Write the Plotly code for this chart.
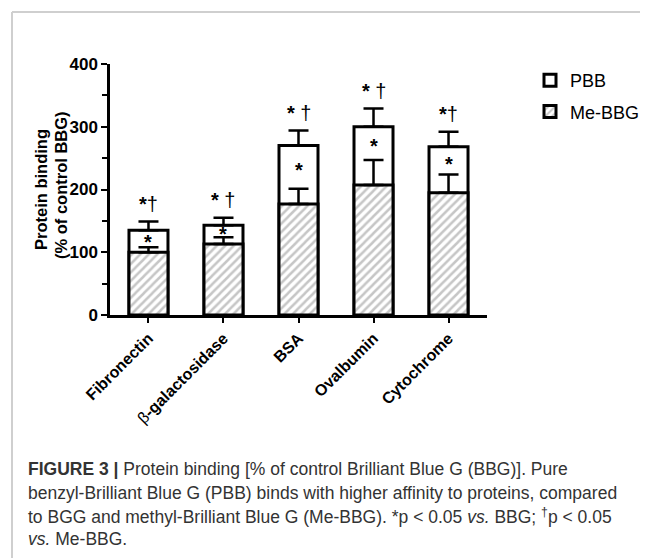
import plotly.graph_objects as go

categories = ["<b>Fibronectin</b>", "β<b>-galactosidase</b>", "<b>BSA</b>", "<b>Ovalbumin</b>", "<b>Cytochrome</b>"]
pbb_mean = [135, 143, 270, 300, 268]
pbb_err = [14, 12, 24, 29, 24]
mebbg_mean = [100, 113, 177, 207, 195]
mebbg_err = [8, 11, 24, 40, 29]
top_marks = ["<b>*</b>†", "<b>*</b> †", "<b>*</b> †", "<b>*</b> †", "<b>*</b>†"]
mid_marks = ["<b>*</b>", "<b>*</b>", "<b>*</b>", "<b>*</b>", "<b>*</b>"]

FONT = "Liberation Sans, Arial, sans-serif"
OFF = 8  # browser body margin
W, H = 648 - OFF, 558 - OFF
# plot area in reference page pixels
X0, X1, Y0, Y1 = 110, 487, 64, 315
L, R, T, B = X0 - OFF, W - (X1 - OFF), Y0 - OFF, H - (Y1 - OFF)
PW, PH = W - L - R, H - T - B


def px_x(x):
    return (x - OFF - L) / PW


def px_y(y):
    return (H - B - (y - OFF)) / PH


fig = go.Figure()
fig.add_trace(go.Bar(
    x=categories, y=pbb_mean, name="PBB",
    marker=dict(color="white", line=dict(color="black", width=3)),
    error_y=dict(type="data", array=pbb_err, arrayminus=[0] * len(pbb_err),
                 symmetric=False, color="black", thickness=2.5, width=10),
    width=0.52, cliponaxis=False, legendgroup="a",
))
fig.add_trace(go.Bar(
    x=categories, y=mebbg_mean, name="Me-BBG",
    marker=dict(color="white", line=dict(color="black", width=3),
                pattern=dict(shape="/", fgcolor="#8e8e8e", bgcolor="white", size=6, solidity=0.42)),
    error_y=dict(type="data", array=mebbg_err, arrayminus=[0] * len(mebbg_err),
                 symmetric=False, color="black", thickness=2.5, width=10),
    width=0.52, cliponaxis=False, legendgroup="b",
))

annotations = []
for i, c in enumerate(categories):
    annotations.append(dict(x=c, y=pbb_mean[i] + pbb_err[i], xref="x", yref="y",
                            text=top_marks[i], showarrow=False, yanchor="middle", yshift=18,
                            font=dict(family=FONT, size=20, color="black")))
    mid = (mebbg_mean[i] + mebbg_err[i] + pbb_mean[i]) / 2
    annotations.append(dict(x=c, y=mid, xref="x", yref="y",
                            text=mid_marks[i], showarrow=False, yanchor="middle", yshift=-3,
                            font=dict(family=FONT, size=20, color="black")))

# y-axis title (two lines)
annotations.append(dict(x=px_x(41), y=px_y(190), xref="paper", yref="paper", text="<b>Protein binding</b>",
                        textangle=-90, showarrow=False, xanchor="center", yanchor="middle",
                        font=dict(family=FONT, size=16.5, color="black")))
annotations.append(dict(x=px_x(61), y=px_y(185), xref="paper", yref="paper", text="<b>(% of control BBG)</b>",
                        textangle=-90, showarrow=False, xanchor="center", yanchor="middle",
                        font=dict(family=FONT, size=16.5, color="black")))

caption = [
    "<b>FIGURE 3 |</b> Protein binding [% of control Brilliant Blue G (BBG)]. Pure",
    "benzyl-Brilliant Blue G (PBB) binds with higher affinity to proteins, compared",
    "to BGG and methyl-Brilliant Blue G (Me-BBG). *p < 0.05 <i>vs.</i> BBG; <sup>†</sup>p < 0.05",
    "<i>vs.</i> Me-BBG.",
]
cap_y = [469, 493, 516, 539]
for t, yy in zip(caption, cap_y):
    annotations.append(dict(x=px_x(26), y=px_y(yy), xref="paper", yref="paper", text=t,
                            showarrow=False, xanchor="left", yanchor="middle",
                            font=dict(family=FONT, size=17.5, color="#333333")))

shapes = [
    dict(type="line", xref="paper", yref="paper", x0=px_x(12), x1=px_x(660), y0=px_y(12), y1=px_y(12),
         line=dict(color="#cfcfcf", width=2)),
    dict(type="line", xref="paper", yref="paper", x0=px_x(12), x1=px_x(12), y0=px_y(12), y1=px_y(570),
         line=dict(color="#cfcfcf", width=2)),
]

fig.update_layout(
    width=W, height=H, margin=dict(l=L, r=R, t=T, b=B, pad=0, autoexpand=False),
    paper_bgcolor="white", plot_bgcolor="white",
    barmode="overlay", showlegend=True,
    legend=dict(x=px_x(530), y=px_y(62), xanchor="left", yanchor="top",
                font=dict(family=FONT, size=18, color="black"), tracegroupgap=5,
                bgcolor="rgba(0,0,0,0)"),
    font=dict(family=FONT, color="black"),
    annotations=annotations, shapes=shapes,
    xaxis=dict(range=[-0.513, 4.513], showline=True, linecolor="black", linewidth=2.5,
               ticks="outside", ticklen=5, tickwidth=2, tickcolor="black",
               tickangle=-45, tickfont=dict(family=FONT, size=16, color="black"),
               showgrid=False, zeroline=False, fixedrange=True),
    yaxis=dict(range=[0, 400], showline=True, linecolor="black", linewidth=2.5,
               ticks="outside", ticklen=6, tickwidth=2, tickcolor="black",
               tickvals=[0, 100, 200, 300, 400],
               tickfont=dict(family=FONT, size=17, color="black", weight="bold"),
               minor=dict(ticks="outside", ticklen=5, tickwidth=2, tickcolor="black", dtick=50),
               showgrid=False, zeroline=False, fixedrange=True),
)

fig.write_html("out.html")
